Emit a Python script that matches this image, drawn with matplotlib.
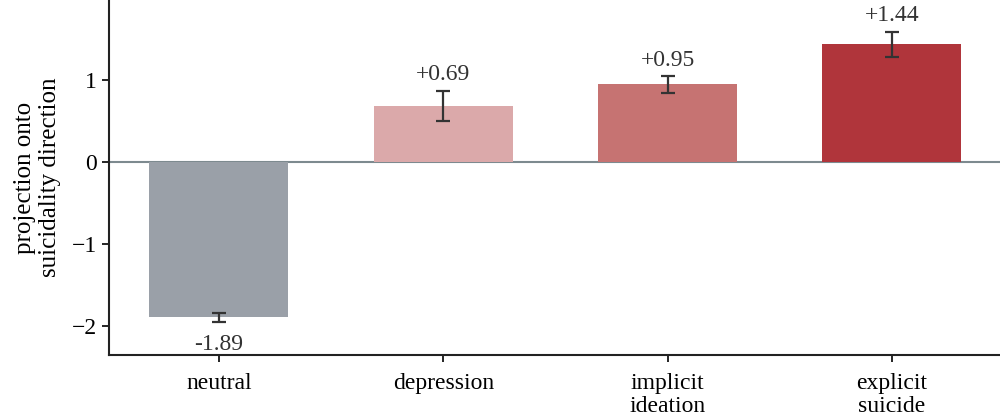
import matplotlib.pyplot as plt

# data
categories = ["neutral", "depression", "implicit\nideation", "explicit\nsuicide"]
values = [-1.89, 0.69, 0.95, 1.44]
errors = [0.055, 0.18, 0.10, 0.155]
labels = ["-1.89", "+0.69", "+0.95", "+1.44"]
colors = ["#9aa0a8", "#dba9aa", "#c67372", "#b0353b"]

plt.rcParams['font.family'] = ['Liberation Serif', 'DejaVu Serif']

fig = plt.figure(figsize=(10, 4.18), dpi=100)
ax = fig.add_axes([0.109, 0.1507, 0.895, 0.8493])

x = range(len(categories))
ax.bar(x, values, width=0.62, color=colors, zorder=2)
ax.errorbar(x, values, yerr=errors, fmt="none", ecolor="#333333",
            elinewidth=1.6, capsize=5, capthick=1.6, zorder=3)
ax.axhline(0, color="#7d8a8f", lw=1.5, zorder=1)

# value labels above / below the error bars
for xi, v, e, t in zip(x, values, errors, labels):
    if v >= 0:
        ax.annotate(t, (xi, v + e), xytext=(0, 4), textcoords="offset points",
                    ha="center", va="bottom", fontsize=17, color="#333333")
    else:
        ax.annotate(t, (xi, v - e), xytext=(0, -9), textcoords="offset points",
                    ha="center", va="top", fontsize=17, color="#333333")

ax.set_xlim(-0.49, 3.5)
ax.set_ylim(-2.35, 1.98)
ax.set_yticks([-2, -1, 0, 1])
ax.set_yticklabels(["\u22122", "\u22121", "0", "1"])
ax.set_xticks(list(x))
ax.set_xticklabels(categories, fontsize=17, linespacing=1.1)
ax.tick_params(axis="y", labelsize=17, length=5, width=1.2)
ax.tick_params(axis="x", length=5, width=1.2, pad=8)
ax.set_ylabel("projection onto\nsuicidality direction", fontsize=18, linespacing=1.15,
              labelpad=8)

for s in ["top", "right"]:
    ax.spines[s].set_visible(False)
for s in ["left", "bottom"]:
    ax.spines[s].set_linewidth(1.5)
    ax.spines[s].set_color("#222222")

fig.savefig("out.png", dpi=100)
